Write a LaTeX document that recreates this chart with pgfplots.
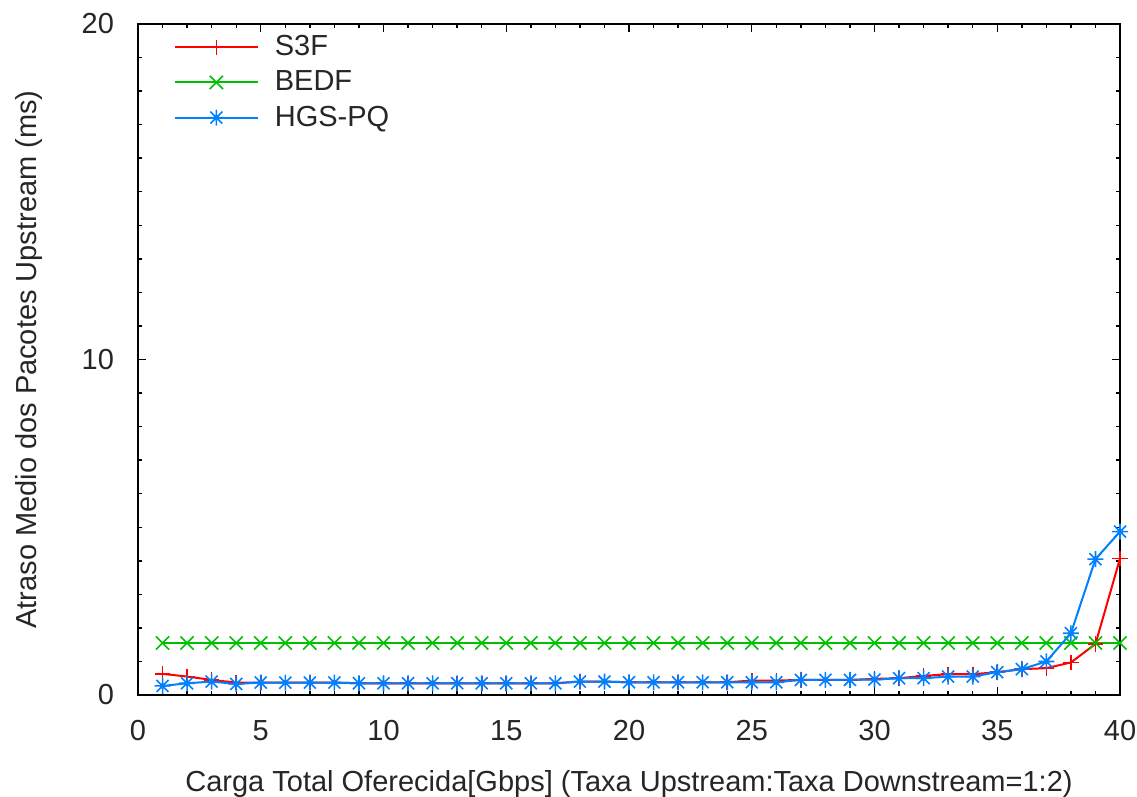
\documentclass[border=0pt]{standalone}
\usepackage{pgfplots}
\pgfplotsset{compat=1.18}
\usepackage{fontspec}
\setmainfont{Liberation Sans}
\definecolor{cS}{RGB}{255,0,0}
\definecolor{cB}{RGB}{0,192,0}
\definecolor{cH}{RGB}{0,128,255}
\pgfdeclareplotmark{gstar}{%
  \pgfpathmoveto{\pgfqpoint{-\pgfplotmarksize}{0pt}}\pgfpathlineto{\pgfqpoint{\pgfplotmarksize}{0pt}}%
  \pgfpathmoveto{\pgfqpoint{0pt}{-\pgfplotmarksize}}\pgfpathlineto{\pgfqpoint{0pt}{\pgfplotmarksize}}%
  \pgfpathmoveto{\pgfqpoint{-0.75\pgfplotmarksize}{-0.75\pgfplotmarksize}}\pgfpathlineto{\pgfqpoint{0.75\pgfplotmarksize}{0.75\pgfplotmarksize}}%
  \pgfpathmoveto{\pgfqpoint{-0.75\pgfplotmarksize}{0.75\pgfplotmarksize}}\pgfpathlineto{\pgfqpoint{0.75\pgfplotmarksize}{-0.75\pgfplotmarksize}}%
  \pgfusepathqstroke
  \pgfpathcircle{\pgfpointorigin}{0.35\pgfplotmarksize}\pgfusepathqfill}
\pgfdeclareplotmark{gx}{%
  \pgfpathmoveto{\pgfqpoint{-\pgfplotmarksize}{-\pgfplotmarksize}}\pgfpathlineto{\pgfqpoint{\pgfplotmarksize}{\pgfplotmarksize}}%
  \pgfpathmoveto{\pgfqpoint{-\pgfplotmarksize}{\pgfplotmarksize}}\pgfpathlineto{\pgfqpoint{\pgfplotmarksize}{-\pgfplotmarksize}}%
  \pgfusepathqstroke}
\begin{document}
\begin{tikzpicture}
\begin{axis}[
  scale only axis, width=491pt, height=335.5pt,
  xmin=0, xmax=40, ymin=0, ymax=20,
  xtick={0,5,...,40}, ytick={0,10,20},
  minor x tick num=4, minor y tick num=9,
  tick align=inside, major tick length=4pt, minor tick length=2pt,
  axis line style={line width=0.8pt}, every tick/.style={black, line width=0.7pt},
  tick label style={font=\fontsize{14.5}{17}\selectfont, text=black!85},
  /pgf/number format/assume math mode=true,
  xticklabel style={yshift=-9pt}, yticklabel style={xshift=-8.5pt},
  xlabel={Carga Total Oferecida[Gbps] (Taxa Upstream:Taxa Downstream=1:2)},
  ylabel={Atraso Medio dos Pacotes Upstream (ms)},
  label style={font=\fontsize{14.5}{17}\selectfont, text=black!85},
  xlabel style={yshift=-8pt}, ylabel style={yshift=12.5pt},
  legend style={draw=none, fill=none, at={(0.03,0.995)}, anchor=north west,
    font=\fontsize{14.5}{17}\selectfont, row sep=2pt,
    cells={anchor=west}, text=black!85},
  legend image code/.code={\draw[mark repeat=2,mark phase=2] plot coordinates {(0pt,0pt) (20.75pt,0pt) (41.5pt,0pt)};\path (47.5pt,0pt);},
]
\addplot[color=cS, line width=1pt, mark=+, mark size=3.8pt, mark options={line width=0.8pt}] coordinates {
(1,0.63)(2,0.55)(3,0.45)(4,0.37)(5,0.37)(6,0.37)(7,0.37)(8,0.37)(9,0.35)(10,0.35)
(11,0.35)(12,0.35)(13,0.35)(14,0.35)(15,0.35)(16,0.35)(17,0.35)(18,0.4)(19,0.4)(20,0.38)
(21,0.38)(22,0.38)(23,0.38)(24,0.38)(25,0.43)(26,0.43)(27,0.45)(28,0.45)(29,0.45)(30,0.48)
(31,0.5)(32,0.57)(33,0.62)(34,0.62)(35,0.68)(36,0.77)(37,0.8)(38,0.97)(39,1.52)(40,4.07)};
\addlegendentry{S3F}
\addplot[color=cB, line width=1pt, mark=gx, mark size=3.3pt, mark options={line width=0.8pt}] coordinates {
(1,1.55)(2,1.55)(3,1.55)(4,1.55)(5,1.55)(6,1.55)(7,1.55)(8,1.55)(9,1.55)(10,1.55)
(11,1.55)(12,1.55)(13,1.55)(14,1.55)(15,1.55)(16,1.55)(17,1.55)(18,1.55)(19,1.55)(20,1.55)
(21,1.55)(22,1.55)(23,1.55)(24,1.55)(25,1.55)(26,1.55)(27,1.55)(28,1.55)(29,1.55)(30,1.55)
(31,1.55)(32,1.55)(33,1.55)(34,1.55)(35,1.55)(36,1.55)(37,1.55)(38,1.55)(39,1.55)(40,1.55)};
\addlegendentry{BEDF}
\addplot[color=cH, line width=1pt, mark=gstar, mark size=4pt, mark options={line width=0.8pt}] coordinates {
(1,0.27)(2,0.35)(3,0.4)(4,0.33)(5,0.37)(6,0.37)(7,0.37)(8,0.37)(9,0.35)(10,0.35)
(11,0.35)(12,0.35)(13,0.35)(14,0.35)(15,0.35)(16,0.35)(17,0.35)(18,0.4)(19,0.4)(20,0.38)
(21,0.38)(22,0.38)(23,0.38)(24,0.38)(25,0.38)(26,0.38)(27,0.45)(28,0.45)(29,0.45)(30,0.46)
(31,0.5)(32,0.5)(33,0.55)(34,0.55)(35,0.68)(36,0.77)(37,1.0)(38,1.84)(39,4.05)(40,4.87)};
\addlegendentry{HGS-PQ}
\end{axis}
\pgfresetboundingbox
\path ([shift={(-69pt,-50.5pt)}]current axis.south west) rectangle ([shift={(8.5pt,12pt)}]current axis.north east);
\end{tikzpicture}
\end{document}
